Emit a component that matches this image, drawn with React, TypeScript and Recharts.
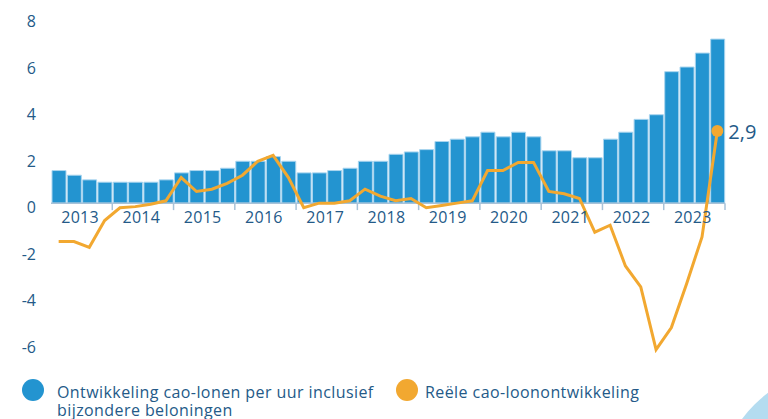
import React from "react";
import {
  ComposedChart,
  Bar,
  Line,
  XAxis,
  YAxis,
  ReferenceLine,
  ReferenceDot,
} from "recharts";

const quarters: string[] = [];
const years = ["2013", "2014", "2015", "2016", "2017", "2018", "2019", "2020", "2021", "2022", "2023"];
years.forEach((y) => ["K1", "K2", "K3", "K4"].forEach((q) => quarters.push(`${y} ${q}`)));

const caoLonen = [
  1.4, 1.2, 1.0, 0.9,
  0.9, 0.9, 0.9, 1.0,
  1.3, 1.4, 1.4, 1.5,
  1.8, 1.8, 2.0, 1.8,
  1.3, 1.3, 1.4, 1.5,
  1.8, 1.8, 2.1, 2.2,
  2.3, 2.65, 2.75, 2.85,
  3.05, 2.85, 3.05, 2.85,
  2.25, 2.25, 1.95, 1.95,
  2.75, 3.05, 3.6, 3.8,
  5.65, 5.85, 6.45, 7.05,
];

const reeel = [
  -1.65, -1.65, -1.9, -0.75,
  -0.2, -0.15, -0.05, 0.1,
  1.1, 0.5, 0.6, 0.85,
  1.2, 1.8, 2.05, 1.1,
  -0.2, 0.0, 0.0, 0.1,
  0.6, 0.3, 0.1, 0.2,
  -0.2, -0.1, 0.0, 0.1,
  1.4, 1.4, 1.75, 1.75,
  0.5, 0.4, 0.2, -1.25,
  -0.95, -2.7, -3.6, -6.3,
  -5.35, -3.45, -1.45, 3.1,
];

const lastLabel = "2,9";
const yTicks = [-6, -4, -2, 0, 2, 4, 6, 8];
const legendBars = "Ontwikkeling cao-lonen per uur inclusief";
const legendBars2 = "bijzondere beloningen";
const legendLine = "Reële cao-loonontwikkeling";

const data = quarters.map((q, i) => ({ i, q, cao: caoLonen[i], reeel: reeel[i] }));
const yearCenters = years.map((y, k) => ({ y, x: k * 4 + 1.4 }));
const yearBounds = years.map((_, k) => k * 4 + 3.5);

const BLUE = "#2394d0";
const ORANGE = "#f2a830";
const TEXT = "#245a88";
const FONT = "'Open Sans', sans-serif";

const YTick = (props: any) => {
  const { x, y, payload } = props;
  return (
    <text x={x} y={y + 4} textAnchor="end" dominantBaseline="central" fill={TEXT} fontSize={16} fontFamily={FONT}>
      {payload.value}
    </text>
  );
};

const LastDot = (props: any) => {
  const { cx, cy, index } = props;
  if (index !== data.length - 1) return <g key={`d${index}`} />;
  return (
    <g key={`d${index}`}>
      <circle cx={cx} cy={cy} r={6} fill={ORANGE} />
      <text x={cx + 11} y={cy} dominantBaseline="central" fill={TEXT} fontSize={20} fontFamily={FONT}>
        {lastLabel}
      </text>
    </g>
  );
};

const legendText: React.CSSProperties = {
  position: "absolute",
  fontSize: 16,
  lineHeight: "18px",
  height: 18,
  color: TEXT,
  whiteSpace: "nowrap",
  letterSpacing: "0.42px",
};

export default function App() {
  return (
    <div
      style={{
        position: "absolute",
        left: 0,
        top: 0,
        width: 768,
        height: 419,
        overflow: "hidden",
        background: "#fff",
        fontFamily: FONT,
      }}
    >
      <div
        style={{
          position: "absolute",
          left: 715,
          top: 365,
          width: 270,
          height: 270,
          borderRadius: "50%",
          background: "#b4dcf0",
        }}
      />
      <div style={{ position: "absolute", left: 0, top: 0 }}>
        <ComposedChart
          width={768}
          height={419}
          data={data}
          margin={{ top: 17, right: 43, bottom: 53, left: 0 }}
        >
          <XAxis type="number" dataKey="i" domain={[-0.5, 43.5]} hide />
          <YAxis
            type="number"
            domain={[-7, 8]}
            ticks={yTicks}
            width={51}
            axisLine={false}
            tickLine={false}
            tick={<YTick />}
            tickMargin={9}
            interval={0}
          />
          <Bar dataKey="cao" fill={BLUE} stroke="#a9d5ef" strokeWidth={1} barSize={14} isAnimationActive={false} />
          <ReferenceLine y={0} stroke="#a8c2d8" strokeWidth={1.5} />
          {yearBounds.map((b) => (
            <ReferenceLine
              key={b}
              segment={[
                { x: b, y: 0 },
                { x: b, y: -0.3 },
              ]}
              stroke="#a8c2d8"
              strokeWidth={1.5}
            />
          ))}
          {yearCenters.map((c) => (
            <ReferenceDot
              key={c.y}
              x={c.x}
              y={0}
              r={0}
              fill="none"
              stroke="none"
              label={{ value: c.y, position: "bottom", offset: 9, fill: TEXT, fontSize: 16, fontFamily: FONT, letterSpacing: 0.3 }}
            />
          ))}
          <Line
            type="linear"
            dataKey="reeel"
            stroke={ORANGE}
            strokeWidth={3}
            dot={LastDot}
            activeDot={false}
            isAnimationActive={false}
          />
        </ComposedChart>
      </div>
      <div style={{ position: "absolute", left: 22, top: 379, width: 22, height: 22, borderRadius: "50%", background: BLUE }} />
      <div style={{ ...legendText, left: 57, top: 382.5 }}>{legendBars}</div>
      <div style={{ ...legendText, left: 57, top: 400.8 }}>{legendBars2}</div>
      <div style={{ position: "absolute", left: 396, top: 379, width: 22, height: 22, borderRadius: "50%", background: ORANGE }} />
      <div style={{ ...legendText, left: 425, top: 382.5 }}>{legendLine}</div>
    </div>
  );
}
